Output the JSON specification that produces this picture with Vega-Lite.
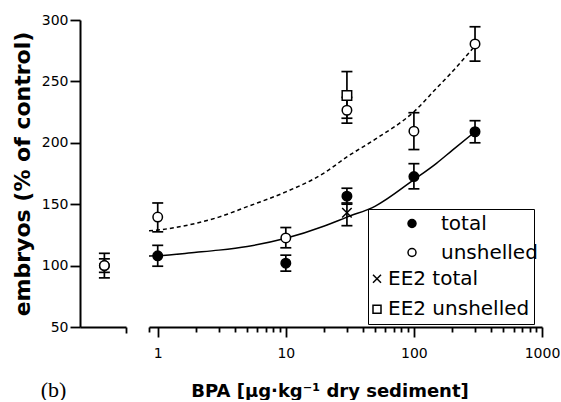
{
  "$schema": "https://vega.github.io/schema/vega-lite/v6.json",
  "padding": {"left": 11, "top": 13, "right": 0, "bottom": 0},
  "background": "white",
  "config": {
    "view": {"stroke": null},
    "font": "DejaVu Sans",
    "axis": {
      "grid": false,
      "domainColor": "black",
      "domainWidth": 2,
      "tickColor": "black",
      "tickWidth": 1.8,
      "labelColor": "black",
      "titleColor": "black",
      "labelFont": "DejaVu Sans",
      "labelFontSize": 14,
      "titleFont": "DejaVu Sans"
    }
  },
  "datasets": {
    "control": [
      {"series": "total", "x": 0.53, "y": 100, "lo": 94.5, "hi": 105.5},
      {"series": "unshelled", "x": 0.53, "y": 100, "lo": 90, "hi": 110}
    ],
    "points": [
      {"series": "total", "x": 1, "y": 108, "lo": 99.5, "hi": 116.5},
      {"series": "total", "x": 10, "y": 102, "lo": 95.5, "hi": 108.5},
      {"series": "total", "x": 30, "y": 156.5, "lo": 150, "hi": 163},
      {"series": "total", "x": 100, "y": 172.5, "lo": 162.5, "hi": 183},
      {"series": "total", "x": 300, "y": 209, "lo": 200, "hi": 218},
      {"series": "unshelled", "x": 1, "y": 139.5, "lo": 127.5, "hi": 151},
      {"series": "unshelled", "x": 10, "y": 122.5, "lo": 114.5, "hi": 131},
      {"series": "unshelled", "x": 30, "y": 226.5, "lo": 216, "hi": 237},
      {"series": "unshelled", "x": 100, "y": 209.5, "lo": 194.5, "hi": 224.5},
      {"series": "unshelled", "x": 300, "y": 280.5, "lo": 266.5, "hi": 294.5},
      {"series": "EE2 total", "x": 30, "y": 143, "lo": 132.5, "hi": 151},
      {"series": "EE2 unshelled", "x": 30, "y": 238.5, "lo": 220, "hi": 258}
    ],
    "fits": [
      {"curve": "total", "x": 0.855, "y": 107.8},
      {"curve": "total", "x": 1, "y": 108},
      {"curve": "total", "x": 2, "y": 110.8},
      {"curve": "total", "x": 3, "y": 112.6},
      {"curve": "total", "x": 5, "y": 115.6},
      {"curve": "total", "x": 10, "y": 122.2},
      {"curve": "total", "x": 20, "y": 132.2},
      {"curve": "total", "x": 30, "y": 139.5},
      {"curve": "total", "x": 50, "y": 148.5},
      {"curve": "total", "x": 100, "y": 170},
      {"curve": "total", "x": 150, "y": 183.3},
      {"curve": "total", "x": 200, "y": 194},
      {"curve": "total", "x": 300, "y": 209},
      {"curve": "unshelled", "x": 0.855, "y": 128.4},
      {"curve": "unshelled", "x": 1, "y": 129},
      {"curve": "unshelled", "x": 2, "y": 134.5},
      {"curve": "unshelled", "x": 3, "y": 139.5},
      {"curve": "unshelled", "x": 5, "y": 148},
      {"curve": "unshelled", "x": 10, "y": 160},
      {"curve": "unshelled", "x": 20, "y": 175.5},
      {"curve": "unshelled", "x": 30, "y": 188.5},
      {"curve": "unshelled", "x": 50, "y": 203},
      {"curve": "unshelled", "x": 100, "y": 225.3},
      {"curve": "unshelled", "x": 150, "y": 244.4},
      {"curve": "unshelled", "x": 200, "y": 258},
      {"curve": "unshelled", "x": 300, "y": 279}
    ]
  },
  "spacing": 23,
  "bounds": "flush",
  "resolve": {"legend": {"shape": "independent", "color": "independent"}},
  "hconcat": [
    {
      "width": 46,
      "height": 307,
      "data": {"name": "control"},
      "layer": [
        {
          "mark": {"type": "rule", "color": "black", "strokeWidth": 1.7},
          "encoding": {
            "x": {"field": "x", "type": "quantitative", "scale": {"domain": [0, 1], "nice": false},
              "axis": {"values": [1], "labels": false, "tickSize": 6, "title": "(b)", "titleFont": "Liberation Serif", "titleFontSize": 22, "titleFontWeight": "normal", "titleX": -27, "titleY": 69, "titleBaseline": "alphabetic", "titleAlign": "center"}},
            "y": {"field": "lo", "type": "quantitative", "scale": {"domain": [50, 300], "nice": false},
              "axis": {"values": [50, 100, 150, 200, 250, 300], "tickSize": 10, "labelPadding": 2, "title": "embryos (% of control)", "titleFontSize": 22, "titleFontWeight": "bold", "titlePadding": 7}},
            "y2": {"field": "hi"}
          }
        },
        {
          "mark": {"type": "tick", "orient": "horizontal", "size": 11, "thickness": 1.7, "color": "black", "opacity": 1},
          "encoding": {
            "x": {"field": "x", "type": "quantitative", "title": "(b)", "scale": {"domain": [0, 1], "nice": false}},
            "y": {"field": "lo", "type": "quantitative", "title": "embryos (% of control)", "scale": {"domain": [50, 300], "nice": false}}
          }
        },
        {
          "mark": {"type": "tick", "orient": "horizontal", "size": 11, "thickness": 1.7, "color": "black", "opacity": 1},
          "encoding": {
            "x": {"field": "x", "type": "quantitative", "title": "(b)", "scale": {"domain": [0, 1], "nice": false}},
            "y": {"field": "hi", "type": "quantitative", "title": "embryos (% of control)", "scale": {"domain": [50, 300], "nice": false}}
          }
        },
        {
          "transform": [{"filter": "datum.series == 'total'"}],
          "mark": {"type": "point", "shape": "circle", "filled": true, "fill": "black", "stroke": "black", "strokeWidth": 1.5, "size": 90, "opacity": 1},
          "encoding": {
            "x": {"field": "x", "type": "quantitative", "title": "(b)", "scale": {"domain": [0, 1], "nice": false}},
            "y": {"field": "y", "type": "quantitative", "title": "embryos (% of control)", "scale": {"domain": [50, 300], "nice": false}}
          }
        },
        {
          "transform": [{"filter": "datum.series == 'unshelled'"}],
          "mark": {"type": "point", "shape": "circle", "filled": true, "fill": "white", "stroke": "black", "strokeWidth": 1.5, "size": 90, "opacity": 1},
          "encoding": {
            "x": {"field": "x", "type": "quantitative", "title": "(b)", "scale": {"domain": [0, 1], "nice": false}},
            "y": {"field": "y", "type": "quantitative", "title": "embryos (% of control)", "scale": {"domain": [50, 300], "nice": false}}
          }
        }
      ]
    },
    {
      "width": 393,
      "height": 307,
      "layer": [
        {
          "data": {"name": "fits"},
          "transform": [{"filter": "datum.curve == 'total'"}],
          "mark": {"type": "line", "color": "black", "strokeWidth": 1.5, "interpolate": "monotone"},
          "encoding": {
            "x": {"field": "x", "type": "quantitative", "scale": {"type": "log", "domain": [0.855, 1000], "nice": false},
              "axis": {
                "values": [0.855, 1, 2, 3, 4, 5, 6, 7, 8, 9, 10, 20, 30, 40, 50, 60, 70, 80, 90, 100, 200, 300, 400, 500, 600, 700, 800, 900, 1000],
                "labelExpr": "(datum.value == 1 || datum.value == 10 || datum.value == 100 || datum.value == 1000) ? format(datum.value, 'd') : ''",
                "tickSize": {"condition": {"test": "datum.value == 1 || datum.value == 10 || datum.value == 100 || datum.value == 1000", "value": 10}, "value": 5},
                "labelPadding": 9,
                "labelFlush": false,
                "labelOverlap": false,
                "title": "BPA [µg·kg⁻¹ dry sediment]",
                "titleFontSize": 18,
                "titleFontWeight": "bold",
                "titleX": 180.5,
                "titleY": 69,
                "titleBaseline": "alphabetic",
                "titleAlign": "center"
              }},
            "y": {"field": "y", "type": "quantitative", "scale": {"domain": [50, 300], "nice": false}, "axis": null}
          }
        },
        {
          "data": {"name": "fits"},
          "transform": [{"filter": "datum.curve == 'unshelled'"}],
          "mark": {"type": "line", "color": "black", "strokeWidth": 1.5, "strokeDash": [4, 3], "interpolate": "monotone"},
          "encoding": {
            "x": {"field": "x", "type": "quantitative", "title": "BPA [µg·kg⁻¹ dry sediment]", "scale": {"type": "log", "domain": [0.855, 1000], "nice": false}},
            "y": {"field": "y", "type": "quantitative", "scale": {"domain": [50, 300], "nice": false}, "axis": null}
          }
        },
        {
          "data": {"name": "points"},
          "mark": {"type": "rule", "color": "black", "strokeWidth": 1.7},
          "encoding": {
            "x": {"field": "x", "type": "quantitative", "title": "BPA [µg·kg⁻¹ dry sediment]", "scale": {"type": "log", "domain": [0.855, 1000], "nice": false}},
            "y": {"field": "lo", "type": "quantitative", "scale": {"domain": [50, 300], "nice": false}, "axis": null},
            "y2": {"field": "hi"}
          }
        },
        {
          "data": {"name": "points"},
          "mark": {"type": "tick", "orient": "horizontal", "size": 11, "thickness": 1.7, "color": "black", "opacity": 1},
          "encoding": {
            "x": {"field": "x", "type": "quantitative", "title": "BPA [µg·kg⁻¹ dry sediment]", "scale": {"type": "log", "domain": [0.855, 1000], "nice": false}},
            "y": {"field": "lo", "type": "quantitative", "scale": {"domain": [50, 300], "nice": false}, "axis": null}
          }
        },
        {
          "data": {"name": "points"},
          "mark": {"type": "tick", "orient": "horizontal", "size": 11, "thickness": 1.7, "color": "black", "opacity": 1},
          "encoding": {
            "x": {"field": "x", "type": "quantitative", "title": "BPA [µg·kg⁻¹ dry sediment]", "scale": {"type": "log", "domain": [0.855, 1000], "nice": false}},
            "y": {"field": "hi", "type": "quantitative", "scale": {"domain": [50, 300], "nice": false}, "axis": null}
          }
        },
        {
          "data": {"name": "points"},
          "transform": [{"filter": "datum.series == 'EE2 total' || datum.series == 'EE2 unshelled'"}],
          "mark": {"type": "point", "filled": true, "fill": "white", "stroke": "black", "strokeWidth": 1.5, "size": 90, "opacity": 1},
          "encoding": {
            "x": {"field": "x", "type": "quantitative", "title": "BPA [µg·kg⁻¹ dry sediment]", "scale": {"type": "log", "domain": [0.855, 1000], "nice": false}},
            "y": {"field": "y", "type": "quantitative", "scale": {"domain": [50, 300], "nice": false}, "axis": null},
            "shape": {
              "field": "series", "type": "nominal",
              "scale": {"domain": ["EE2 total", "EE2 unshelled"], "range": ["M-1,-1L1,1M1,-1L-1,1", "square"]},
              "legend": {
                "orient": "none", "legendX": 219, "legendY": 189,
                "title": " ", "titleFontSize": 20, "titlePadding": 35.7,
                "strokeColor": "black", "padding": 4,
                "labelFont": "DejaVu Sans", "labelFontSize": 20, "labelColor": "black", "labelLimit": 300, "labelOffset": 1,
                "symbolSize": 64, "symbolStrokeWidth": 1.5, "symbolOffset": -5, "rowPadding": 10.5
              }
            }
          }
        },
        {
          "data": {"name": "points"},
          "transform": [{"filter": "datum.series == 'total' || datum.series == 'unshelled'"}],
          "mark": {"type": "point", "shape": "circle", "filled": true, "stroke": "black", "strokeWidth": 1.5, "size": 90, "opacity": 1},
          "encoding": {
            "x": {"field": "x", "type": "quantitative", "title": "BPA [µg·kg⁻¹ dry sediment]", "scale": {"type": "log", "domain": [0.855, 1000], "nice": false}},
            "y": {"field": "y", "type": "quantitative", "scale": {"domain": [50, 300], "nice": false}, "axis": null},
            "color": {
              "field": "series", "type": "nominal",
              "scale": {"domain": ["total", "unshelled"], "range": ["black", "white"]},
              "legend": {
                "orient": "none", "legendX": 253, "legendY": 193.5, "title": null,
                "padding": 0,
                "labelFont": "DejaVu Sans", "labelFontSize": 20, "labelColor": "black", "labelLimit": 300, "labelOffset": 19,
                "symbolSize": 64, "symbolStrokeWidth": 1.5, "rowPadding": 9
              }
            }
          }
        }
      ]
    }
  ]
}
